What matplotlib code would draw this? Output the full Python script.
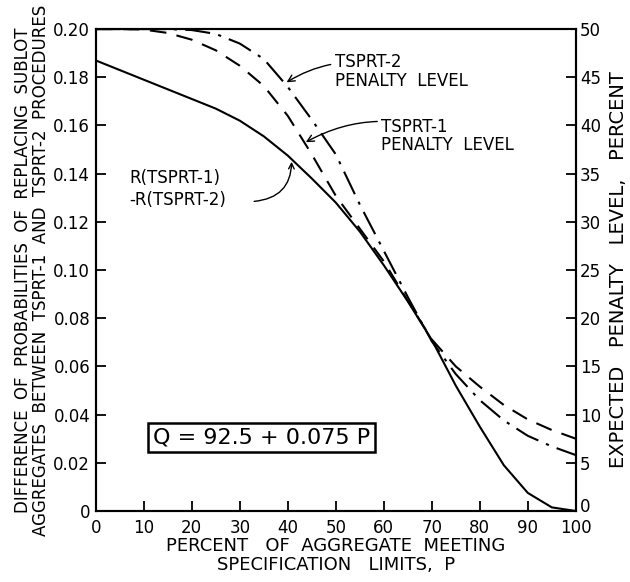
import matplotlib.pyplot as plt
from matplotlib.transforms import ScaledTranslation

# percent of aggregate meeting spec limits
p_vals = [0, 5, 10, 15, 20, 25, 30, 35, 40, 45, 50, 55, 60, 65, 70,
          75, 80, 85, 90, 95, 100]

# R(TSPRT-1) - R(TSPRT-2), left axis
diff_r = [0.187, 0.183, 0.179, 0.175, 0.171, 0.167, 0.162, 0.1555, 0.1475,
          0.138, 0.128, 0.116, 0.102, 0.087, 0.071, 0.052, 0.035, 0.019,
          0.0075, 0.0015, 0.0]

# expected penalty level, percent (right axis)
tsprt1_pen = [50.0, 50.0, 49.95, 49.6, 48.9, 47.8, 46.2, 44.1, 41.0, 37.0,
              32.7, 29.3, 25.9, 21.8, 17.8, 15.0, 12.9, 11.0, 9.5, 8.4, 7.5]
tsprt2_pen = [50.0, 50.0, 50.0, 50.0, 49.9, 49.5, 48.5, 46.9, 44.0, 40.6,
              37.0, 31.8, 27.0, 22.2, 17.6, 14.2, 11.5, 9.4, 7.8, 6.7, 5.8]

x_ticks = list(range(0, 101, 10))
left_ticks = [0, 0.02, 0.04, 0.06, 0.08, 0.10, 0.12, 0.14, 0.16, 0.18, 0.20]
left_labels = ['0', '0.02', '0.04', '0.06', '0.08', '0.10', '0.12', '0.14',
               '0.16', '0.18', '0.20']
right_ticks = list(range(0, 51, 5))

plt.rcParams['font.family'] = ['DejaVu Sans']

fig = plt.figure(figsize=(6.3, 5.82), dpi=100)
ax = fig.add_axes([0.152, 0.122, 0.762, 0.828])
ax2 = ax.twinx()

ax.plot(p_vals, diff_r, color='black', lw=1.5)
ax2.plot(p_vals, tsprt1_pen, color='black', lw=1.5, dashes=(8, 5))
ax2.plot(p_vals, tsprt2_pen, color='black', lw=1.5, dashes=(12, 4, 1.5, 4))

ax.set_xlim(0, 100)
ax.set_ylim(0, 0.20)
ax2.set_ylim(0, 50)

ax.set_xticks(x_ticks)
ax.set_yticks(left_ticks)
ax.set_yticklabels(left_labels)
ax2.set_yticks(right_ticks)

ax.tick_params(axis='both', direction='in', length=7, width=1.3,
               labelsize=12, top=False)
ax2.tick_params(axis='y', direction='in', length=7, width=1.3, labelsize=12,
                pad=3)
ax.tick_params(axis='x', pad=6)
ax.tick_params(axis='y', pad=4)

# nudge the right-hand "0" up a little so it clears the "100"
zero_lbl = ax2.get_yticklabels()[0]
zero_lbl.set_transform(zero_lbl.get_transform() +
                       ScaledTranslation(0, 4 / 72, fig.dpi_scale_trans))

for a in (ax, ax2):
    for s in a.spines.values():
        s.set_linewidth(1.5)

ax.set_xlabel('PERCENT   OF  AGGREGATE  MEETING\nSPECIFICATION   LIMITS,  P',
              fontsize=13, linespacing=1.05, labelpad=0)
ax.set_ylabel('DIFFERENCE  OF  PROBABILITIES  OF  REPLACING  SUBLOT\n'
              'AGGREGATES  BETWEEN  TSPRT-1  AND  TSPRT-2  PROCEDURES',
              fontsize=12, linespacing=1.05, labelpad=2)
ax2.set_ylabel('EXPECTED   PENALTY   LEVEL,   PERCENT', fontsize=14,
               labelpad=6)

arrow = dict(arrowstyle='->', color='black', lw=1.0,
             connectionstyle='arc3,rad=0.25', shrinkA=1, shrinkB=1)
ax2.annotate('TSPRT-2\nPENALTY  LEVEL', xy=(39.5, 44.4), xytext=(49.8, 45.6),
             fontsize=12, va='center', ha='left', linespacing=1.05,
             arrowprops=arrow)
ax2.annotate('TSPRT-1\nPENALTY  LEVEL', xy=(43.5, 38.2), xytext=(59.5, 38.9),
             fontsize=12, va='center', ha='left', linespacing=1.05,
             arrowprops=arrow)
ax.text(7.0, 0.1335, 'R(TSPRT-1)\n-R(TSPRT-2)', fontsize=12, va='center',
        ha='left', linespacing=1.3)
ax.annotate('', xy=(40.8, 0.1455), xytext=(33.0, 0.1285),
            arrowprops=dict(arrowstyle='->', color='black', lw=1.0,
                            connectionstyle='arc3,rad=0.45',
                            shrinkA=0, shrinkB=1))

ax.text(34.5, 0.0305, 'Q = 92.5 + 0.075 P', fontsize=16, ha='center',
        va='center',
        bbox=dict(boxstyle='square,pad=0.22', fc='white', ec='black',
                  lw=1.8))

fig.savefig('out.png', dpi=100)
